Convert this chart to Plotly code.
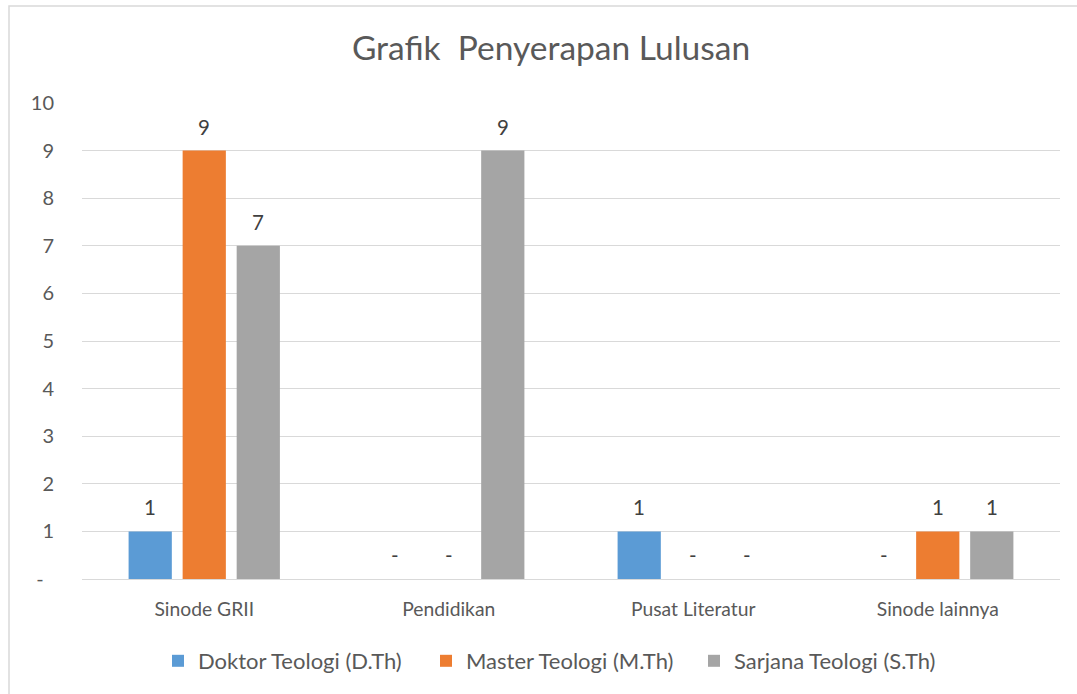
import plotly.graph_objects as go

categories = ["Sinode GRII", "Pendidikan", "Pusat Literatur", "Sinode lainnya"]
series_names = ["Doktor Teologi (D.Th)", "Master Teologi (M.Th)", "Sarjana Teologi (S.Th)"]
doktor = [1, 0, 1, 0]
master = [9, 0, 0, 1]
sarjana = [7, 9, 0, 1]
y_tick_vals = list(range(0, 11))
y_tick_text = ["-  "] + [str(v) for v in range(1, 11)]

colors = ["#5B9BD5", "#ED7D31", "#A5A5A5"]
series = [doktor, master, sarjana]

FONT = "Lato"
TXT = "#595959"

W, H = 1077, 694
L, R, T, B = 82, 17, 103, 115
bargap = 0.337
bargroupgap = 0.2

fig = go.Figure()
for name, vals, col in zip(series_names, series, colors):
    fig.add_trace(go.Bar(
        name=name, x=categories, y=vals, marker=dict(color=col, line=dict(width=0)),
        hoverinfo="x+y+name",
    ))

# data labels (Excel accounting style: zero shown as "-")
plot_w = W - L - R
cat_px = plot_w / len(categories)
slot_px = cat_px * (1 - bargap) / len(series)
for i, vals in enumerate(series):
    for c, v in zip(categories, vals):
        fig.add_annotation(
            x=c, y=v, xref="x", yref="y", text=("-" if v == 0 else str(v)),
            showarrow=False, xshift=(i - 1) * slot_px, yshift=24,
            font=dict(family=FONT, size=20.5, color="#404040"),
        )

# chart area border (left and top visible)
fig.add_shape(type="rect", xref="paper", yref="paper",
              x0=(9 - L) / plot_w, x1=1.2, y0=-0.5, y1=(H - B - 6) / (H - T - B),
              line=dict(color="#D9D9D9", width=1.5), layer="below")

fig.update_layout(
    width=W, height=H,
    margin=dict(l=L, r=R, t=T, b=B),
    paper_bgcolor="white", plot_bgcolor="white",
    barmode="group", bargap=bargap, bargroupgap=bargroupgap,
    title=dict(text="Grafik  Penyerapan Lulusan", x=(551 - L) / plot_w, xref="paper", xanchor="center",
               y=1 - 48 / H, yref="container", yanchor="middle",
               font=dict(family=FONT, size=33.5, color=TXT)),
    font=dict(family=FONT, size=19, color=TXT),
    legend=dict(orientation="h", x=(560 - L) / plot_w, xanchor="center", y=1 - 661 / H, yref="container",
                yanchor="middle", font=dict(family=FONT, size=22, color=TXT),
                traceorder="normal", itemwidth=30, entrywidth=223, entrywidthmode="pixels"),
    showlegend=True,
)
fig.update_yaxes(range=[0, 10], tickvals=y_tick_vals, ticktext=y_tick_text,
                 showgrid=True, gridcolor="#D9D9D9", gridwidth=1.4,
                 zeroline=False, showline=False, ticks="", ticklabelstandoff=27,
                 tickfont=dict(family=FONT, size=20, color=TXT), fixedrange=True)
fig.update_xaxes(showgrid=False, showline=True, linecolor="#D9D9D9", linewidth=1.4,
                 ticks="", ticklabelstandoff=13,
                 tickfont=dict(family=FONT, size=19.3, color=TXT), fixedrange=True)

fig.write_html("out.html", config={"displayModeBar": False},
               post_script="document.body.style.margin='0px';")
